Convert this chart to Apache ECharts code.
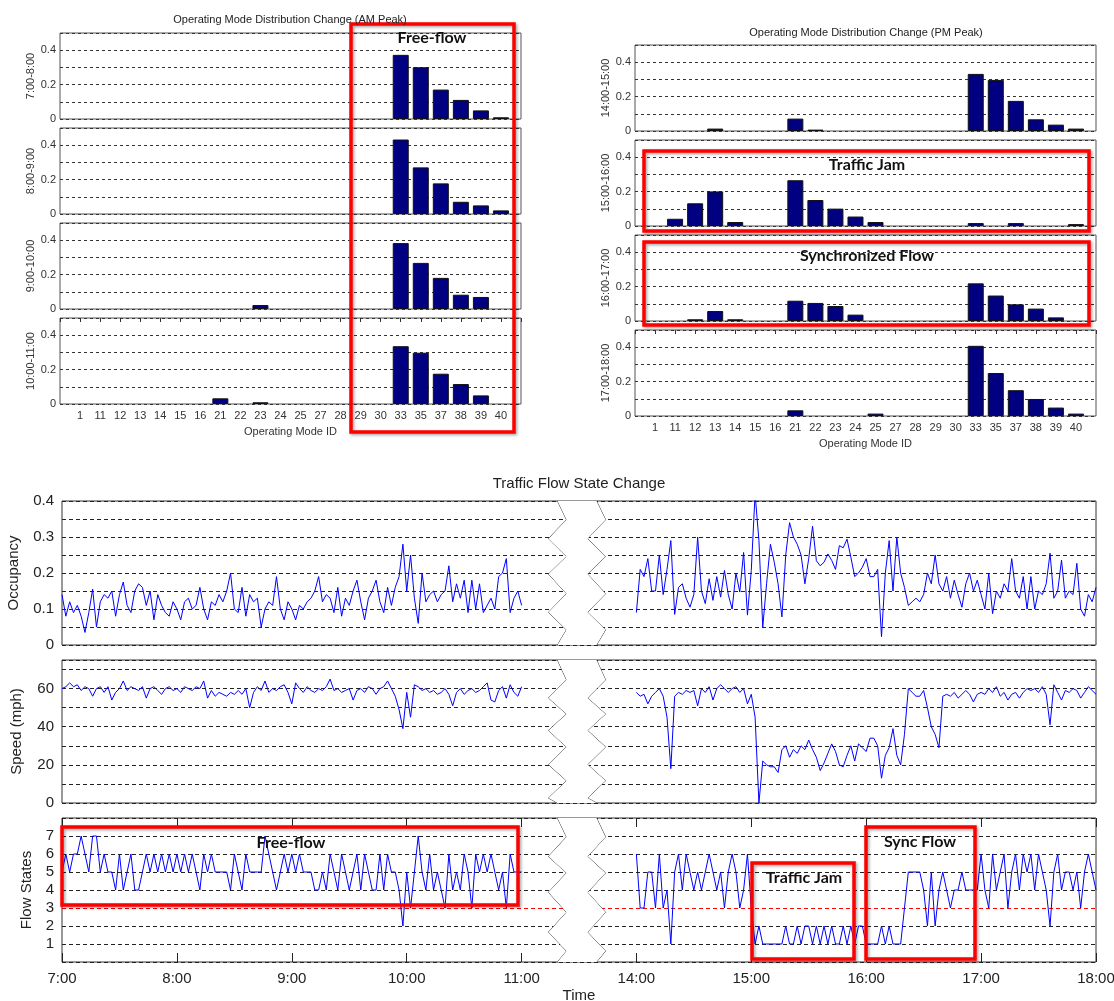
<!DOCTYPE html>
<html>
<head>
<meta charset="utf-8">
<title>Operating Mode Distribution and Traffic Flow State Change</title>
<script src="https://cdn.jsdelivr.net/npm/echarts@6/dist/echarts.min.js"></script>
<style>
  html, body { margin: 0; padding: 0; background: #fff; }
  #chart { width: 1114px; height: 1001px; }
</style>
</head>
<body>
<div id="chart"></div>
<script>
// ---------- Operating mode distribution (share of time per mode) ----------
const MODE_IDS = ['1','11','12','13','14','15','16','21','22','23','24','25','27','28','29','30','33','35','37','38','39','40'];

const AM_PERIODS = ['7:00-8:00', '8:00-9:00', '9:00-10:00', '10:00-11:00'];
const PM_PERIODS = ['14:00-15:00', '15:00-16:00', '16:00-17:00', '17:00-18:00'];

const AM_0700 = [0,0,0,0,0,0,0,0,0,0,0,0,0,0,0,0,0.373,0.301,0.171,0.111,0.050,0.010];
const AM_0800 = [0,0,0,0,0,0,0,0,0,0,0,0,0,0,0,0,0.433,0.271,0.178,0.071,0.050,0.021];
const AM_0900 = [0,0,0,0,0,0,0,0,0,0.023,0,0,0,0,0,0,0.383,0.268,0.181,0.083,0.070,0];
const AM_1000 = [0,0,0,0,0,0,0,0.033,0,0.010,0,0,0,0,0,0,0.336,0.298,0.176,0.116,0.050,0];

const PM_1400 = [0,0,0,0.014,0,0,0,0.072,0.008,0,0,0,0,0,0,0,0.332,0.297,0.175,0.068,0.037,0.014];
const PM_1500 = [0,0.042,0.132,0.201,0.023,0,0,0.266,0.151,0.101,0.055,0.023,0,0,0,0,0.017,0,0.017,0,0,0.011];
const PM_1600 = [0,0,0.010,0.058,0.010,0,0,0.118,0.105,0.087,0.037,0,0,0,0,0,0.219,0.148,0.097,0.072,0.021,0];
const PM_1700 = [0,0,0,0,0,0,0,0.033,0,0,0,0.014,0,0,0,0,0.408,0.250,0.150,0.099,0.049,0.014];

// ---------- Traffic flow time series (2-minute samples) ----------
const AM_START_HOUR = 7;
const PM_START_HOUR = 14;
const STEP_MINUTES = 2;

const OCC_AM = [
  0.14,0.08,0.12,0.09,0.11,0.08,0.035,0.09,0.155,0.05,
  0.12,0.14,0.13,0.15,0.08,0.14,0.175,0.11,0.09,0.15,
  0.17,0.16,0.11,0.15,0.07,0.14,0.11,0.09,0.08,0.12,
  0.10,0.07,0.12,0.13,0.10,0.11,0.16,0.10,0.07,0.12,
  0.11,0.14,0.12,0.15,0.20,0.10,0.09,0.16,0.08,0.14,
  0.12,0.13,0.05,0.10,0.12,0.11,0.19,0.10,0.07,0.12,
  0.10,0.07,0.11,0.10,0.12,0.13,0.15,0.19,0.12,0.14,
  0.13,0.09,0.16,0.08,0.13,0.11,0.15,0.18,0.12,0.07,
  0.13,0.15,0.18,0.12,0.09,0.16,0.11,0.16,0.19,0.28,
  0.15,0.25,0.13,0.06,0.20,0.12,0.14,0.15,0.12,0.14,
  0.15,0.22,0.12,0.17,0.13,0.18,0.09,0.18,0.10,0.17,
  0.09,0.11,0.13,0.10,0.19,0.20,0.24,0.09,0.13,0.15,
  0.11
];
const OCC_PM = [
  0.09,0.21,0.19,0.24,0.15,0.15,0.25,0.14,0.21,0.29,
  0.085,0.16,0.17,0.13,0.105,0.14,0.30,0.15,0.115,0.184,
  0.124,0.19,0.133,0.207,0.14,0.10,0.20,0.147,0.257,0.083,
  0.207,0.42,0.29,0.05,0.17,0.28,0.23,0.17,0.078,0.25,
  0.34,0.30,0.28,0.25,0.17,0.24,0.33,0.234,0.22,0.23,
  0.253,0.235,0.21,0.276,0.27,0.294,0.244,0.19,0.20,0.216,
  0.24,0.19,0.19,0.21,0.023,0.20,0.29,0.15,0.30,0.20,
  0.16,0.11,0.12,0.13,0.12,0.14,0.20,0.17,0.25,0.17,
  0.15,0.19,0.13,0.18,0.14,0.105,0.17,0.20,0.15,0.18,
  0.14,0.10,0.20,0.087,0.15,0.13,0.17,0.15,0.24,0.15,
  0.13,0.19,0.10,0.19,0.10,0.15,0.14,0.17,0.255,0.13,
  0.15,0.236,0.13,0.15,0.14,0.227,0.10,0.08,0.14,0.12,
  0.16
];
const SPEED_AM = [
  60,61,63,61,62,59,61,60,56,60,
  61,58,61,54,58,60,64,59,61,60,
  59,61,55,60,61,59,57,60,61,59,
  60,58,61,60,59,61,60,64,55,59,
  56,58,57,56,58,57,59,57,60,50,
  58,61,59,64,58,60,59,61,62,58,
  52,63,60,58,61,59,58,60,59,61,
  65,59,60,58,59,60,54,59,60,58,
  61,60,57,60,61,64,60,56,49,39,
  58,45,62,61,59,60,58,59,57,58,
  60,57,51,58,60,57,59,60,58,59,
  61,63,54,53,59,61,55,62,58,56,
  61
];
const SPEED_PM = [
  58,56,57,52,56,58,60,56,45,18,
  56,58,57,59,58,59,51,60,58,61,
  54,60,62,60,58,60,61,58,60,52,
  57,45,0,22,20,19,19,16,28,30,
  24,28,26,30,28,33,28,24,17,21,
  26,31,27,20,19,25,30,22,31,29,
  27,34,34,30,13,25,29,39,25,20,
  36,60,58,56,56,59,50,40,36,29,
  56,57,56,58,55,57,59,57,53,57,
  58,57,60,58,61,56,58,54,57,58,
  55,58,60,59,60,58,61,57,41,62,
  58,54,59,58,60,59,55,58,61,59,
  57
];
const STATE_AM = [
  5,6,5,6,6,7,6,5,7,7,
  5,6,5,5,4,6,4,5,6,4,
  4,5,6,5,6,5,6,5,6,5,
  6,5,6,5,6,5,4,6,5,6,
  5,5,5,5,4,6,5,4,6,5,
  5,5,5,7,6,5,4,5,6,5,
  6,5,6,5,5,5,4,4,5,4,
  6,5,4,6,5,4,5,6,4,6,
  5,4,4,6,4,6,5,5,4,2,
  5,3,5,7,5,4,6,4,5,4,
  3,6,4,5,4,6,5,3,6,5,
  6,5,6,5,4,5,3,6,5,5,
  5
];
const STATE_PM = [
  6,3,3,5,5,3,6,3,4,1,
  5,6,4,6,5,4,5,4,5,6,
  5,4,5,3,5,6,5,3,4,6,
  3,1,2,1,1,1,1,1,1,2,
  1,1,2,1,2,2,1,2,1,2,
  1,2,1,1,2,1,2,1,2,2,
  1,1,1,1,2,1,2,1,1,1,
  3,5,5,5,5,4,2,5,2,4,
  5,4,3,4,4,5,4,4,4,4,
  6,4,3,6,4,5,6,3,5,6,
  4,6,5,6,4,6,5,4,2,5,
  6,4,5,5,4,5,3,5,6,5,
  4
];
const STATE_THRESHOLD = 3;
const HOUR_TICKS = [7, 8, 9, 10, 11, 14, 15, 16, 17, 18];

// ---------- styling ----------
const NARROW = "'Liberation Sans Narrow', 'Arial Narrow', 'Liberation Sans', Arial, sans-serif";
const SANS = "'Liberation Sans', Arial, sans-serif";
const BAR_FILL = '#000080';
const LINE_BLUE = '#0000ff';
const GRID_DASH = { color: '#222', type: [4, 3], width: 1 };

const grids = [], xAxes = [], yAxes = [], series = [];

function makeGrid(left, top, width, height, border) {
  return { left: left, top: top, width: width, height: height, show: true,
    borderColor: border, borderWidth: 1, backgroundColor: '#fff',
    outerBoundsMode: 'none', containLabel: false };
}

// one small bar panel: a row of operating-mode shares for one hour
function addBarPanel(left, top, periodName, shares, isLast) {
  const gi = grids.length;
  grids.push(makeGrid(left, top, 461, 86, '#555'));
  const cats = [''].concat(MODE_IDS, ['']);
  const xi = xAxes.length;
  xAxes.push({
    type: 'category', gridIndex: gi, data: cats, boundaryGap: false,
    axisLine: { show: false }, axisTick: { show: false }, splitLine: { show: false },
    axisLabel: isLast ? { show: true, interval: 0, fontFamily: NARROW, fontSize: 11, color: '#333', margin: 6 } : { show: false },
    name: isLast ? 'Operating Mode ID' : '', nameLocation: 'middle', nameGap: 22,
    nameTextStyle: { fontFamily: NARROW, fontSize: 11, color: '#333' }
  });
  if (isLast) {
    xAxes.push({
      type: 'category', gridIndex: gi, position: 'top', data: cats, boundaryGap: false,
      axisLine: { show: false }, axisLabel: { show: false }, splitLine: { show: false },
      axisTick: { show: true, inside: true, length: 4, lineStyle: { color: '#333' } }
    });
  }
  const yi = yAxes.length;
  yAxes.push({
    type: 'value', gridIndex: gi, min: 0, max: 0.5, interval: 0.1,
    name: periodName, nameLocation: 'middle', nameGap: 20,
    nameTextStyle: { fontFamily: NARROW, fontSize: 11, color: '#333' },
    axisLine: { show: false }, axisTick: { show: false },
    axisLabel: { fontFamily: NARROW, fontSize: 11, color: '#333', margin: 4,
      formatter: function (v) { const r = Math.round(v * 10); return (r % 2 === 0 && r <= 4) ? (r === 0 ? '0' : (r / 10).toFixed(1)) : ''; } },
    splitLine: { show: true, lineStyle: { color: '#333', type: [3, 3], width: 1 } }
  });
  // modes with no share get no bar at all
  const barData = [null].concat(shares.map(function (v) { return v > 0 ? v : null; }), [null]);
  series.push({
    type: 'bar', xAxisIndex: xi, yAxisIndex: yi,
    data: barData, barWidth: 16,
    itemStyle: { color: BAR_FILL, borderColor: '#111', borderWidth: 1 }
  });
}

const AM_SHARES = [AM_0700, AM_0800, AM_0900, AM_1000];
const PM_SHARES = [PM_1400, PM_1500, PM_1600, PM_1700];
[33, 128, 223, 318].forEach(function (t, k) { addBarPanel(60, t, AM_PERIODS[k], AM_SHARES[k], k === 3); });
[45, 140, 235, 330].forEach(function (t, k) { addBarPanel(635, t, PM_PERIODS[k], PM_SHARES[k], k === 3); });

// ---------- time panels with a broken time axis (11:00 - 14:00 skipped) ----------
const TIME_BREAK = { start: 11.31, end: 13.65, gap: '3.76%' };

function timeAxis(gi, extra) {
  return Object.assign({
    type: 'value', gridIndex: gi, min: 7, max: 18, interval: 1,
    breaks: [Object.assign({}, TIME_BREAK)],
    breakArea: {
      show: true,
      itemStyle: { color: '#fff', borderColor: '#333', borderWidth: 1, borderType: 'solid', opacity: 1 },
      zigzagAmplitude: 9, zigzagMinSpan: 16, zigzagMaxSpan: 20, zigzagZ: 100, expandOnClick: false
    },
    axisLine: { show: false }, splitLine: { show: false },
    axisTick: { show: false }, axisLabel: { show: false }
  }, extra || {});
}

function samples(startHour, values) {
  return values.map(function (v, i) { return [startHour + i * STEP_MINUTES / 60, v]; });
}

function lineSeries(xi, yi, startHour, values) {
  return {
    type: 'line', xAxisIndex: xi, yAxisIndex: yi, data: samples(startHour, values),
    showSymbol: false, symbol: 'none', clip: true, z: 3,
    lineStyle: { color: LINE_BLUE, width: 1 }, itemStyle: { color: LINE_BLUE }
  };
}

function addTimePanel(top, height, yOpt, amValues, pmValues, isLast) {
  const gi = grids.length;
  grids.push(makeGrid(62, top, 1034, height, '#333'));
  const xi = xAxes.length;
  xAxes.push(timeAxis(gi, isLast ? {
    axisLabel: { show: true, fontFamily: SANS, fontSize: 15, color: '#222', margin: 9,
      customValues: HOUR_TICKS,
      formatter: function (v) { return Math.round(v) + ':00'; } },
    axisTick: { show: true, inside: true, length: 9, lineStyle: { color: '#222' },
      customValues: HOUR_TICKS },
    name: 'Time', nameLocation: 'middle', nameGap: 26,
    nameTextStyle: { fontFamily: SANS, fontSize: 15, color: '#222' }
  } : {}));
  if (isLast) {
    xAxes.push(timeAxis(gi, {
      position: 'top',
      breakArea: { show: false },
      axisTick: { show: true, inside: true, length: 9, lineStyle: { color: '#222' }, customValues: HOUR_TICKS }
    }));
  }
  const yi = yAxes.length;
  yAxes.push(Object.assign({
    type: 'value', gridIndex: gi, nameLocation: 'middle',
    nameTextStyle: { fontFamily: SANS, fontSize: 15, color: '#222' },
    axisLine: { show: false }, axisTick: { show: false },
    splitLine: { show: true, lineStyle: GRID_DASH }
  }, yOpt));
  series.push(lineSeries(xi, yi, AM_START_HOUR, amValues));
  series.push(lineSeries(xi, yi, PM_START_HOUR, pmValues));
}

const yLabel = { fontFamily: SANS, fontSize: 15, color: '#222', margin: 8 };

addTimePanel(501, 144, {
  min: 0, max: 0.4, interval: 0.05, name: 'Occupancy', nameGap: 41,
  axisLabel: Object.assign({}, yLabel, { formatter: function (v) {
    const r = Math.round(v * 100); return r % 10 === 0 ? (r === 0 ? '0' : (r / 100).toFixed(1)) : ''; } })
}, OCC_AM, OCC_PM, false);

addTimePanel(660, 143, {
  min: 0, max: 75, interval: 10, name: 'Speed (mph)', nameGap: 38,
  axisLabel: Object.assign({}, yLabel, { formatter: function (v) { return (v % 20 === 0) ? String(v) : ''; } })
}, SPEED_AM, SPEED_PM, false);

// the threshold state level is marked in red, the other levels in black
const stateGridColors = [];
for (let s = 0; s <= 8; s++) stateGridColors.push(s === STATE_THRESHOLD ? '#ff0000' : '#222');

addTimePanel(818, 144, {
  min: 0, max: 8, interval: 1, name: 'Flow States', nameGap: 17,
  splitLine: { show: true, lineStyle: { color: stateGridColors, type: [4, 3], width: 1 } },
  axisLabel: Object.assign({}, yLabel, { formatter: function (v) { return (v >= 1 && v <= 7) ? String(v) : ''; } })
}, STATE_AM, STATE_PM, true);

// ---------- titles and highlighted regions ----------
function label(x, y, text, size, family, weight, fill) {
  return { type: 'text', x: x, y: y, z: 120,
    style: { text: text, fontSize: size, fontFamily: family, fontWeight: weight || 'normal',
      fill: fill || '#222', align: 'center', verticalAlign: 'middle' } };
}
function callout(x, y, w, h) {
  return { type: 'rect', z: 110, shape: { x: x, y: y, width: w, height: h },
    style: { fill: 'none', stroke: '#ff0000', lineWidth: 3.5,
      shadowBlur: 3, shadowColor: 'rgba(0,0,0,0.35)', shadowOffsetX: 1.5, shadowOffsetY: 1.5 } };
}
function tag(x, y, text) {
  const t = label(x, y, text, 16, 'Lato, "Open Sans", sans-serif', 'bold', '#111');
  t.style.shadowColor = 'rgba(0,0,0,0.3)';
  t.style.shadowBlur = 2;
  t.style.shadowOffsetX = 1;
  t.style.shadowOffsetY = 1;
  return t;
}

const graphics = [
  label(290, 20, 'Operating Mode Distribution Change (AM Peak)', 11, NARROW, 'normal', '#222'),
  label(866, 33, 'Operating Mode Distribution Change (PM Peak)', 11, NARROW, 'normal', '#222'),
  label(579, 484, 'Traffic Flow State Change', 15, SANS, 'normal', '#222'),
  callout(351, 24, 163, 408), tag(432, 38, 'Free-flow'),
  callout(644, 151, 445, 80), tag(867, 165, 'Traffic Jam'),
  callout(644, 242, 445, 83), tag(867, 256, 'Synchronized Flow'),
  callout(62, 827, 456, 78), tag(291, 843, 'Free-flow'),
  callout(752, 863, 102, 96), tag(804, 878, 'Traffic Jam'),
  callout(866, 827, 109, 132), tag(920, 842, 'Sync Flow')
];

const chart = echarts.init(document.getElementById('chart'), null, { renderer: 'canvas' });
chart.setOption({
  animation: false,
  backgroundColor: '#fff',
  grid: grids,
  xAxis: xAxes,
  yAxis: yAxes,
  series: series,
  graphic: graphics
});
</script>
</body>
</html>
